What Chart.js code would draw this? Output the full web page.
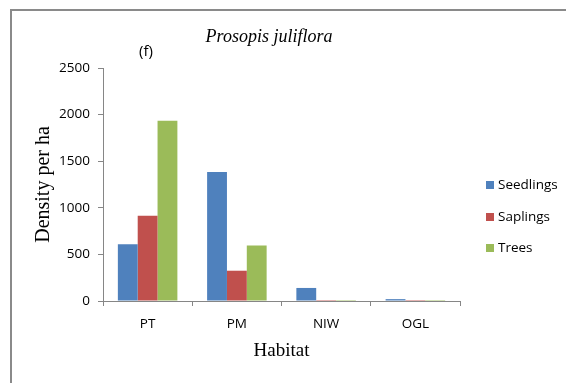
<!DOCTYPE html>
<html>
<head>
<meta charset="utf-8">
<script src="https://cdn.jsdelivr.net/npm/chart.js@4.4.1/dist/chart.umd.min.js"></script>
<style>
  html, body { margin: 0; padding: 0; background: #ffffff; }
  #wrap { position: relative; width: 566px; height: 383px; }
  canvas { display: block; }
</style>
</head>
<body>
<div id="wrap"><canvas id="chart" width="566" height="383"></canvas></div>
<script>
// Habitat categories and density (individuals per ha) of Prosopis juliflora
const habitats = ['PT', 'PM', 'NIW', 'OGL'];
const seedlings = [610, 1385, 140, 20];
const saplings = [915, 325, 10, 10];
const trees = [1935, 595, 10, 10];
const yTicks = [0, 500, 1000, 1500, 2000, 2500];

const seriesNames = ['Seedlings', 'Saplings', 'Trees'];
const seriesColors = ['#4F81BD', '#C0504D', '#9BBB59'];

const axisGrey = '#868686';
const sansFont = "'Open Sans', 'Liberation Sans', Arial, sans-serif";
const serifFont = "'Liberation Serif', 'Times New Roman', serif";

// Frame, panel label, title and legend drawn on top of the chart
const decorations = {
  id: 'decorations',
  afterDraw(chart) {
    const ctx = chart.ctx;
    ctx.save();
    // outer frame (top and left edges)
    ctx.strokeStyle = '#8a8a8a';
    ctx.lineWidth = 2;
    ctx.beginPath();
    ctx.moveTo(11, 383);
    ctx.lineTo(11, 10);
    ctx.lineTo(566, 10);
    ctx.stroke();

    // panel label
    ctx.fillStyle = '#000000';
    ctx.textAlign = 'center';
    ctx.textBaseline = 'middle';
    ctx.font = '15px ' + sansFont;
    ctx.fillText('(f)', 146, 52);

    // species title
    ctx.font = 'italic 18px ' + serifFont;
    ctx.fillText('Prosopis juliflora', 269, 37);

    // legend
    ctx.textAlign = 'left';
    ctx.font = '13.5px ' + sansFont;
    const legendY = [185, 217, 248];
    chart.data.datasets.forEach((ds, i) => {
      const y = legendY[i];
      ctx.fillStyle = ds.backgroundColor;
      ctx.fillRect(486, y - 4, 8, 8);
      ctx.fillStyle = '#000000';
      ctx.fillText(ds.label, 498, y);
    });
    ctx.restore();
  }
};

new Chart(document.getElementById('chart'), {
  type: 'bar',
  data: {
    labels: habitats,
    datasets: [
      { label: seriesNames[0], data: seedlings, backgroundColor: seriesColors[0] },
      { label: seriesNames[1], data: saplings, backgroundColor: seriesColors[1] },
      { label: seriesNames[2], data: trees, backgroundColor: seriesColors[2] }
    ]
  },
  options: {
    responsive: false,
    animation: false,
    devicePixelRatio: 1,
    layout: { padding: { top: 68, right: 106, left: 0, bottom: 0 } },
    datasets: {
      bar: { categoryPercentage: 0.667, barPercentage: 1.0, borderWidth: 0 }
    },
    plugins: {
      legend: { display: false },
      title: { display: false },
      tooltip: { enabled: false }
    },
    scales: {
      x: {
        offset: true,
        grid: {
          offset: true,
          drawOnChartArea: false,
          drawTicks: true,
          tickLength: 5,
          color: axisGrey,
          lineWidth: 1
        },
        border: { color: axisGrey, width: 1 },
        ticks: {
          color: '#000000',
          padding: 10,
          font: { family: sansFont, size: 13.5 }
        },
        title: {
          display: true,
          text: 'Habitat',
          color: '#000000',
          font: { family: serifFont, size: 19 },
          padding: { top: 0, bottom: 21 }
        },
        afterFit(scale) { scale.height = 82; }
      },
      y: {
        min: 0,
        max: 2500,
        afterBuildTicks(scale) { scale.ticks = yTicks.map(v => ({ value: v })); },
        grid: {
          drawOnChartArea: false,
          drawTicks: true,
          tickLength: 5,
          color: axisGrey,
          lineWidth: 1
        },
        border: { color: axisGrey, width: 1 },
        ticks: {
          color: '#000000',
          padding: 8,
          font: { family: sansFont, size: 13.5 },
          callback: (value) => String(value)
        },
        title: {
          display: true,
          text: 'Density per ha',
          color: '#000000',
          font: { family: serifFont, size: 20 },
          padding: { top: 32, bottom: 0 }
        },
        afterFit(scale) { scale.width = 103; }
      }
    }
  },
  plugins: [decorations]
});
</script>
</body>
</html>
